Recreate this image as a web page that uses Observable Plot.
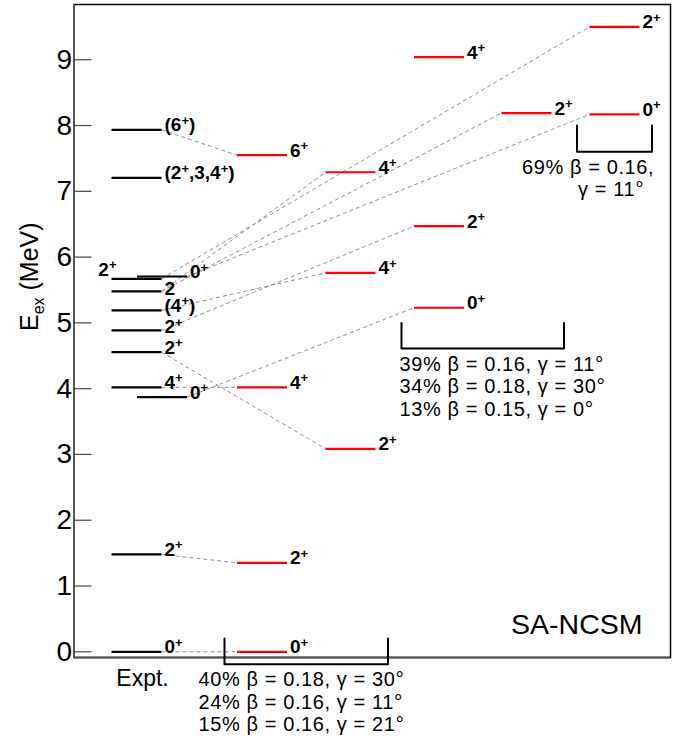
<!DOCTYPE html>
<html>
<head>
<meta charset="utf-8">
<script src="https://cdn.jsdelivr.net/npm/d3@7"></script>
<script src="https://cdn.jsdelivr.net/npm/@observablehq/plot@0.6"></script>
<style>
  html, body { margin: 0; padding: 0; background: #fff; }
</style>
</head>
<body>
<div id="chart"></div>
<script>
// ---------- data ----------
// column left edges, in level-width units (each level is 1 unit wide)
const columnStart = [0.75, 1.26, 3.26, 5.03, 6.80, 8.55, 10.31];

// experimental levels (MeV)
const exptEnergy = [0, 1.48, 3.87, 4.02, 4.555, 4.885, 5.19, 5.48, 5.67, 5.705, 7.205, 7.935];
const exptLabel  = ["0+", "2+", "0+", "4+", "2+", "2+", "(4+)", "2", "2+", "0+", "(2+,3,4+)", "(6+)"];
const exptColumn = [0, 0, 1, 0, 0, 0, 0, 0, 0, 1, 0, 0];
const exptLabelSide = ["right", "right", "right", "right", "right", "right", "right", "right", "left", "right", "right", "right"];

// SA-NCSM levels (MeV)
const theoryEnergy = [0, 1.353, 4.02, 7.55, 3.086, 5.76, 7.29, 5.23, 6.47, 9.04, 8.19, 8.17, 9.50];
const theoryLabel  = ["0+", "2+", "4+", "6+", "2+", "4+", "4+", "0+", "2+", "4+", "2+", "0+", "2+"];
const theoryColumn = [2, 2, 2, 2, 3, 3, 3, 4, 4, 4, 5, 6, 6];

// dashed correspondences [expt index, theory index]
const connections = [[0, 0], [1, 1], [3, 2], [11, 3], [4, 4], [2, 7], [5, 8], [6, 5], [8, 12], [7, 6], [7, 10], [9, 11]];

// shape-mixture brackets: [first column, last column], top & bottom (MeV)
const bracketColumns = [[2, 3], [4, 5], [6, 6]];
const bracketTop = [0.20, 5.00, 8.00];
const bracketBottom = [-0.19, 4.61, 7.60];
const compositionText = [
  ["40% β = 0.18, γ = 30°", "24% β = 0.16, γ = 11°", "15% β = 0.16, γ = 21°"],
  ["39% β = 0.16, γ = 11°", "34% β = 0.18, γ = 30°", "13% β = 0.15, γ = 0°"],
  ["69% β = 0.16,", "γ = 11°"]
];

const yTicks = [0, 1, 2, 3, 4, 5, 6, 7, 8, 9];
const yTitle = "Eex (MeV)";
const exptTitle = "Expt.";
const theoryTitle = "SA-NCSM";

// ---------- layout ----------
const W = 693, H = 740;
const mL = 73.5, mR = 23, mT = 4, mB = 83;
const xDomain = [0, (W - mL - mR) / 50];
const yDomain = [-0.087, 9.84];
const pxX = (W - mL - mR) / (xDomain[1] - xDomain[0]);
const pxY = (H - mT - mB) / (yDomain[1] - yDomain[0]);
const exptLabelNudge = {5: 1.5, 7: 2.5};            // extra px downward for crowded labels
const compositionIndent = [[-26, -26, -26], [-2, -2, -2], [-55, 1]]; // px from bracket left
const compLineGap = 22.5;

const expt = exptEnergy.map((E, i) => ({
  E, label: exptLabel[i], x1: columnStart[exptColumn[i]], x2: columnStart[exptColumn[i]] + 1,
  side: exptLabelSide[i], set: "expt", ly: E - (exptLabelNudge[i] || 0) / pxY
}));
const theory = theoryEnergy.map((E, i) => ({
  E, label: theoryLabel[i], x1: columnStart[theoryColumn[i]], x2: columnStart[theoryColumn[i]] + 1,
  side: "right", set: "theory", ly: E
}));
const levels = [...expt, ...theory];
const links = connections.map(([a, b]) => ({
  x1: expt[a].x2, y1: expt[a].E, x2: theory[b].x1, y2: theory[b].E
}));

const bracketPts = [];
const compRows = [];
bracketColumns.forEach(([c1, c2], k) => {
  const xa = columnStart[c1] - 0.25, xb = columnStart[c2] + 1.25;
  bracketPts.push({k, x: xa, y: bracketTop[k]}, {k, x: xa, y: bracketBottom[k]},
                  {k, x: xb, y: bracketBottom[k]}, {k, x: xb, y: bracketTop[k]});
  compositionText[k].forEach((t, j) => {
    compRows.push({
      text: t,
      x: xa + compositionIndent[k][j] / pxX,
      y: bracketBottom[k] - (22 + compLineGap * j) / pxY
    });
  });
});

const FONT = "'Liberation Sans', Arial, Helvetica, sans-serif";

const chart = Plot.plot({
  width: W, height: H,
  marginLeft: mL, marginRight: mR, marginTop: mT, marginBottom: mB,
  x: {domain: xDomain, axis: null},
  y: {domain: yDomain, axis: null},
  style: {fontFamily: FONT, background: "white", color: "black", overflow: "visible"},
  marks: [
    Plot.frame({stroke: "black", strokeWidth: 1.5}),
    Plot.ruleX([xDomain[0]], {stroke: "#555", strokeWidth: 2}),
    Plot.ruleY([yDomain[0]], {stroke: "#555", strokeWidth: 2}),
    Plot.ruleY(yTicks, {y: d => d, x1: xDomain[0], x2: xDomain[0] + 18 / pxX, stroke: "#444", strokeWidth: 1.2}),
    Plot.axisY({ticks: yTicks, tickSize: 0, tickPadding: 2, fontSize: 28, label: null, tickFormat: d => String(d)}),
    Plot.text([yTitle], {frameAnchor: "left", dx: -44, rotate: -90, fontSize: 25}),
    // dashed correspondences
    Plot.link(links, {x1: "x1", y1: "y1", x2: "x2", y2: "y2", stroke: "#8f8f8f", strokeWidth: 1, strokeDasharray: "4,3"}),
    // levels
    Plot.link(levels, {x1: "x1", x2: "x2", y1: "E", y2: "E",
      stroke: d => d.set === "expt" ? "black" : "#ff0000", strokeWidth: 2.2}),
    // level labels
    Plot.text(levels.filter(d => d.side === "right"), {x: "x2", y: "ly", text: "label",
      textAnchor: "start", lineAnchor: "bottom", dx: 3, dy: 1.5, fontSize: 19, fontWeight: "bold"}),
    Plot.text(levels.filter(d => d.side === "left"), {x: "x1", y: "ly", text: "label",
      textAnchor: "end", lineAnchor: "bottom", dx: 5, dy: -3, fontSize: 19, fontWeight: "bold"}),
    // brackets and compositions
    Plot.line(bracketPts, {x: "x", y: "y", z: "k", stroke: "black", strokeWidth: 2, curve: "linear"}),
    Plot.text(compRows, {x: "x", y: "y", text: "text", textAnchor: "start", lineAnchor: "bottom",
      fontSize: 20}),
    Plot.text([exptTitle], {x: columnStart[0] + 0.5, frameAnchor: "bottom", dx: 6, dy: 28,
      lineAnchor: "bottom", fontSize: 23}),
    Plot.text([theoryTitle], {frameAnchor: "bottom-right", dx: -28, dy: -24, textAnchor: "end",
      lineAnchor: "bottom", fontSize: 28.5})
  ]
});

// ---------- superscripts / subscripts ----------
function splitSup(el, ch, size, shift) {
  const s = el.textContent;
  if (!s.includes(ch)) return;
  const t = d3.select(el);
  t.text(null);
  const pieces = [];
  s.split("").forEach(c => {
    if (c === ch) pieces.push({sup: true, s: c});
    else if (pieces.length && !pieces[pieces.length - 1].sup) pieces[pieces.length - 1].s += c;
    else pieces.push({sup: false, s: c});
  });
  let up = false;
  for (const p of pieces) {
    if (p.sup) {
      const ts = t.append("tspan").attr("font-size", size).text(p.s);
      if (!up && shift) ts.attr("dy", -shift);
      up = true;
    } else {
      const ts = t.append("tspan").text(p.s);
      if (up && shift) ts.attr("dy", shift);
      up = false;
    }
  }
}
const root = chart.tagName.toLowerCase() === "svg" ? chart : chart.querySelector("svg");
d3.select(root).selectAll("text").each(function () {
  const s = this.textContent;
  if (this.querySelector("tspan")) return;
  if (s === yTitle) {
    const t = d3.select(this);
    t.text(null);
    t.append("tspan").text("E");
    t.append("tspan").attr("font-size", 16).attr("dy", 6).text("ex");
    t.append("tspan").attr("dy", -6).text(" (MeV)");
  } else if (s.includes("+")) {
    splitSup(this, "+", 13, 6.5);
  } else if (s.includes("°") || s.includes("β") || s.includes("γ")) {
    d3.select(this).attr("letter-spacing", 0.6);
    splitSup(this, "°", 21, 0);
  }
});

document.getElementById("chart").appendChild(chart);
</script>
</body>
</html>
